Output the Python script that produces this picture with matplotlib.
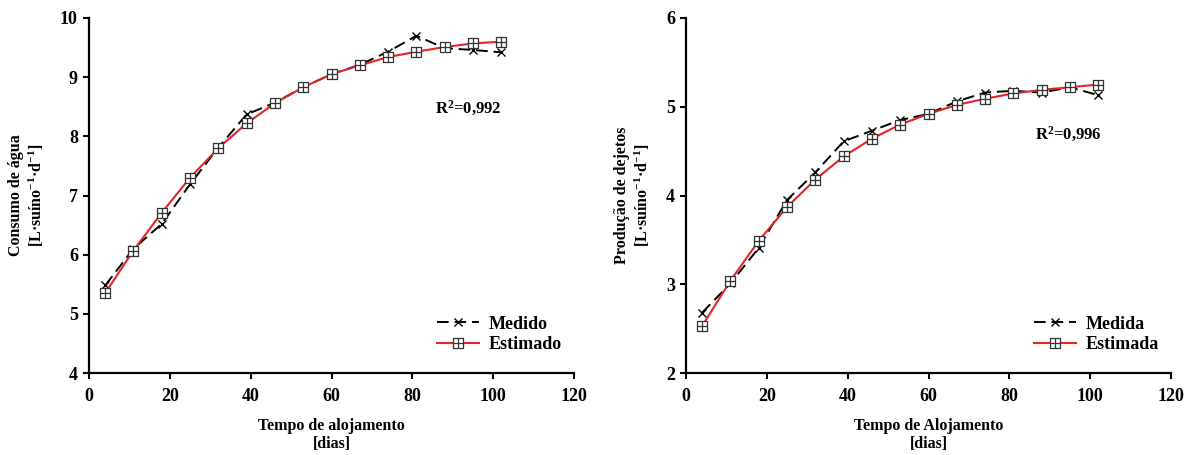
import matplotlib
matplotlib.use("Agg")
import matplotlib.pyplot as plt
from matplotlib.path import Path

plt.rcParams['font.family'] = ['Liberation Serif', 'DejaVu Serif']
plt.rcParams['font.weight'] = 'bold'
plt.rcParams['mathtext.fontset'] = 'custom'
plt.rcParams['mathtext.rm'] = 'Liberation Serif:bold'
plt.rcParams['mathtext.bf'] = 'Liberation Serif:bold'
plt.rcParams['mathtext.it'] = 'Liberation Serif:bold'
plt.rcParams['mathtext.default'] = 'bf'

dias = [4, 11, 18, 25, 32, 39, 46, 53, 60, 67, 74, 81, 88, 95, 102]

agua_medido = [5.48, 6.10, 6.52, 7.19, 7.81, 8.37, 8.57, 8.83, 9.05, 9.21, 9.43, 9.70, 9.49, 9.46, 9.42]
agua_estimado = [5.35, 6.07, 6.71, 7.30, 7.80, 8.22, 8.56, 8.83, 9.05, 9.20, 9.34, 9.43, 9.51, 9.57, 9.60]

dejetos_medida = [2.68, 3.01, 3.41, 3.95, 4.26, 4.61, 4.73, 4.85, 4.92, 5.06, 5.16, 5.18, 5.16, 5.22, 5.13]
dejetos_estimada = [2.53, 3.04, 3.49, 3.87, 4.18, 4.44, 4.64, 4.80, 4.92, 5.02, 5.09, 5.15, 5.19, 5.22, 5.25]

x_ticks = [0, 20, 40, 60, 80, 100, 120]

# square-with-cross marker
verts = [(-1, -1), (1, -1), (1, 1), (-1, 1), (-1, -1),
         (0, -1), (0, 1), (-1, 0), (1, 0)]
codes = [Path.MOVETO, Path.LINETO, Path.LINETO, Path.LINETO, Path.CLOSEPOLY,
         Path.MOVETO, Path.LINETO, Path.MOVETO, Path.LINETO]
sq_cross = Path(verts, codes)

fig = plt.figure(figsize=(11.99, 4.55), dpi=100)
ax1 = fig.add_axes([89/1199, 1-373/455, 485/1199, 355/455])
ax2 = fig.add_axes([686/1199, 1-373/455, 485/1199, 355/455])

red = '#e3242b'

def setup(ax, ylim, yticks, ylabel, xlabel, r2, r2pos, labels):
    ax.plot(dias, labels[0][0], color='black', lw=1.4, dashes=(6, 3),
            marker='x', markersize=6, markeredgewidth=1.0, label=labels[0][1])
    ax.plot(dias, labels[1][0], color=red, lw=1.5,
            marker=sq_cross, markersize=7, markerfacecolor='white',
            markeredgecolor='#333333', markeredgewidth=0.9, label=labels[1][1])
    ax.set_xlim(0, 120)
    ax.set_ylim(*ylim)
    ax.set_xticks(x_ticks)
    ax.set_yticks(yticks)
    for s in ['top', 'right']:
        ax.spines[s].set_visible(False)
    for s in ['left', 'bottom']:
        ax.spines[s].set_linewidth(1.6)
    ax.tick_params(axis='both', direction='out', length=4, width=1.5,
                   labelsize=13)
    ax.tick_params(axis='x', pad=7)
    ax.tick_params(axis='y', pad=4)
    for lab in ax.get_xticklabels() + ax.get_yticklabels():
        lab.set_fontweight('bold')
    ax.set_xlabel(xlabel, fontsize=11.5, fontweight='bold', labelpad=9, linespacing=1.2)
    ax.set_ylabel(ylabel, fontsize=11.5, fontweight='bold', labelpad=10, linespacing=1.2)
    ax.text(r2pos[0], r2pos[1], r2, fontsize=12, fontweight='bold',
            ha='left', va='center')
    leg = ax.legend(loc='lower right', bbox_to_anchor=(0.99, 0.035), borderaxespad=0,
                    frameon=False, handlelength=2.3, handletextpad=0.55,
                    labelspacing=0.2, prop={'weight': 'bold', 'size': 13})
    return leg

setup(ax1, (4, 10), [4, 5, 6, 7, 8, 9, 10],
      'Consumo de água\n[L·suíno$^{-1}$·d$^{-1}$]',
      'Tempo de alojamento\n[dias]', 'R$^{2}$=0,992', (85.5, 8.47),
      [(agua_medido, 'Medido'), (agua_estimado, 'Estimado')])
setup(ax2, (2, 6), [2, 3, 4, 5, 6],
      'Produção de dejetos\n[L·suíno$^{-1}$·d$^{-1}$]',
      'Tempo de Alojamento\n[dias]', 'R$^{2}$=0,996', (86.3, 4.69),
      [(dejetos_medida, 'Medida'), (dejetos_estimada, 'Estimada')])

fig.savefig('out.png', dpi=100)
